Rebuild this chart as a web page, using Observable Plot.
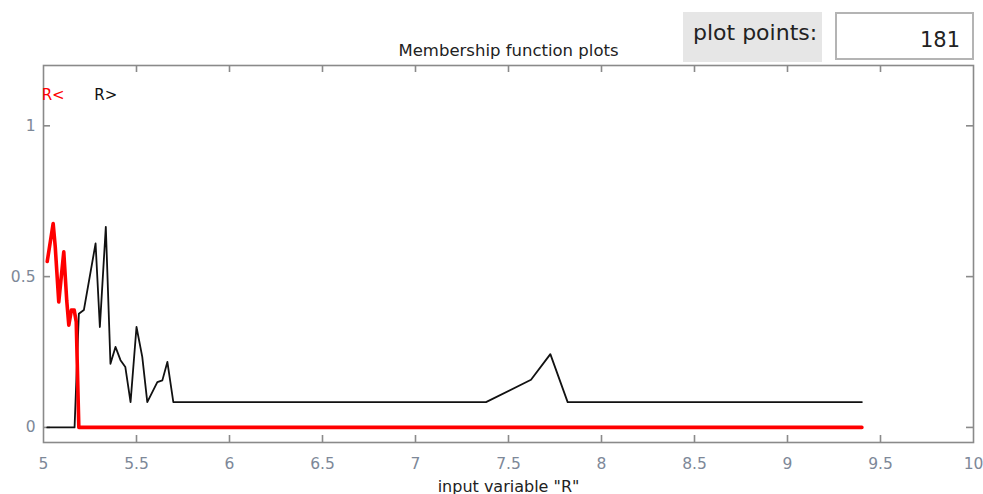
<!DOCTYPE html>
<html>
<head>
<meta charset="utf-8">
<script src="https://cdn.jsdelivr.net/npm/d3@7"></script>
<script src="https://cdn.jsdelivr.net/npm/@observablehq/plot@0.6"></script>
<style>
  html, body { margin: 0; padding: 0; background: #fff; }
  #wrap { position: relative; width: 983px; height: 494px; overflow: hidden; font-family: "DejaVu Sans", sans-serif; }
  #pp-label { position: absolute; left: 683px; top: 12px; width: 139px; height: 50px; background: #e6e6e6; color: #222; font-size: 22px; box-sizing: border-box; padding: 8px 0 0 10px; }
  #pp-box { position: absolute; left: 835px; top: 12px; width: 139px; height: 48px; background: #fff; border: 2px solid #b4b4b4; box-sizing: border-box; color: #222; font-size: 21px; text-align: right; padding: 14px 12px 0 0; }
  #chart { position: absolute; left: 0; top: 0; }
</style>
</head>
<body>
<div id="wrap">
  <div id="chart"></div>
  <div id="pp-label"></div>
  <div id="pp-box"></div>
</div>
<script>
// ---- data ----
const chartTitle = "Membership function plots";
const xLabel = 'input variable "R"';
const plotPointsLabel = "plot points:";
const plotPoints = 181;

const mfNames = ["R<", "R>"];
const mfColors = ["#ff0000", "#111111"];

const rLessX = [5.020, 5.052, 5.063, 5.082, 5.109, 5.125, 5.136, 5.150, 5.165, 5.176, 5.190, 9.400];
const rLessY = [0.550, 0.676, 0.600, 0.416, 0.582, 0.420, 0.339, 0.389, 0.389, 0.350, 0.000, 0.000];

const rMoreX = [5.020, 5.167, 5.190, 5.217, 5.280, 5.303, 5.335, 5.360, 5.387, 5.414, 5.440, 5.468, 5.500, 5.531, 5.558, 5.612, 5.639, 5.666, 5.698, 7.379, 7.621, 7.725, 7.818, 9.400];
const rMoreY = [0.000, 0.000, 0.377, 0.389, 0.610, 0.333, 0.665, 0.211, 0.267, 0.223, 0.200, 0.084, 0.333, 0.234, 0.084, 0.150, 0.156, 0.217, 0.084, 0.084, 0.158, 0.243, 0.084, 0.084];

const xTicks = [5, 5.5, 6, 6.5, 7, 7.5, 8, 8.5, 9, 9.5, 10];
const yTicks = [0, 0.5, 1];
const xDomain = [5, 10];
const yDomain = [-0.05, 1.2];
const labelY = 1.1;

// ---- build ----
const rLess = rLessX.map((x, i) => ({x, y: rLessY[i]}));
const rMore = rMoreX.map((x, i) => ({x, y: rMoreY[i]}));
const series = [rLess, rMore];
const peaks = series.map((s, i) => {
  const m = s.reduce((a, b) => (b.y > a.y ? b : a));
  return {x: m.x, y: labelY, name: mfNames[i], color: mfColors[i]};
});

const W = 983, H = 494;
const mL = 43, mR = 10, mT = 65, mB = 52;
const innerW = W - mL - mR, innerH = H - mT - mB;
const axisGray = "#8a8a8a";
const labelGray = "#7d8898";
const tick = 7;

const chart = Plot.plot({
  width: W,
  height: H,
  marginLeft: mL,
  marginRight: mR,
  marginTop: mT,
  marginBottom: mB,
  style: {fontFamily: "DejaVu Sans, sans-serif", fontSize: "15px", background: "#fff", overflow: "visible"},
  x: {domain: xDomain},
  y: {domain: yDomain},
  marks: [
    Plot.frame({stroke: axisGray, strokeWidth: 1.6}),
    // inward ticks on all four sides
    Plot.tickX(xTicks.slice(1, -1), {x: d => d, stroke: axisGray, strokeWidth: 1.6, insetTop: innerH - tick}),
    Plot.tickX(xTicks.slice(1, -1), {x: d => d, stroke: axisGray, strokeWidth: 1.6, insetBottom: innerH - tick}),
    Plot.tickY(yTicks, {y: d => d, stroke: axisGray, strokeWidth: 1.6, insetRight: innerW - tick}),
    Plot.tickY(yTicks, {y: d => d, stroke: axisGray, strokeWidth: 1.6, insetLeft: innerW - tick}),
    Plot.axisX({ticks: xTicks, tickSize: 0, tickPadding: 15, fill: labelGray, label: null, tickFormat: d => String(d), fontSize: 15.5}),
    Plot.axisY({ticks: yTicks, tickSize: 0, tickPadding: 8, fill: labelGray, label: null, tickFormat: d => String(d), fontSize: 15.5}),
    // membership functions
    Plot.line(rMore, {x: "x", y: "y", stroke: mfColors[1], strokeWidth: 1.8}),
    Plot.line(rLess, {x: "x", y: "y", stroke: mfColors[0], strokeWidth: 3.6}),
    Plot.text(peaks, {x: "x", y: "y", text: "name", fill: "color", fontSize: 15}),
    // title and x label
    Plot.text([chartTitle], {text: d => d, frameAnchor: "top", dy: -21, fontSize: 16.5, fill: "#222"}),
    Plot.text([xLabel], {text: d => d, frameAnchor: "bottom", dy: 49, fontSize: 16, fill: "#222"})
  ]
});
document.getElementById("chart").appendChild(chart);
document.getElementById("pp-label").textContent = plotPointsLabel;
document.getElementById("pp-box").textContent = String(plotPoints);
</script>
</body>
</html>
